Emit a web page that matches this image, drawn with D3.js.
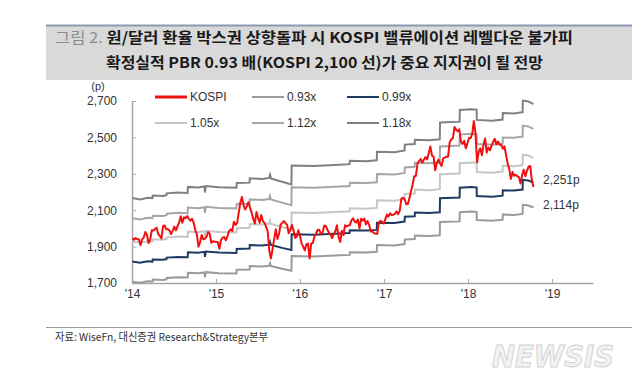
<!DOCTYPE html>
<html>
<head>
<meta charset="utf-8">
<script src="https://cdn.jsdelivr.net/npm/d3@7"></script>
<style>
  body { margin: 0; background: #fff; }
  svg { display: block; }
</style>
</head>
<body>
<div id="chart"></div>
<script>
// weekly KOSPI closes, first week ends 2014-01-03
var kospiStart = new Date(2014, 0, 3);
var kospi2014 = [1946, 1938, 1947, 1940, 1941, 1907, 1940, 1950, 1980, 1964, 1920, 1938, 1990,
    1989, 1997, 2004, 1969, 1958, 1945, 2013, 2016, 1995, 1995, 1989, 1969, 1988,
    2009, 1989, 2012, 2033, 2067, 2031, 2061, 2057, 2068, 2051, 2043, 2053, 2031,
    1991, 1968, 1900, 1925, 1964, 1940, 1944, 1955, 1980, 1970, 1921, 1929, 1927];
var kospi2015 = [1926, 1924, 1888, 1936, 1949, 1953, 1935, 1957, 1985, 1995, 1986, 2037, 2019,
    2029, 2087, 2143, 2173, 2127, 2104, 2121, 2143, 2114, 2086, 2052, 2027, 2090,
    2058, 2031, 2074, 2040, 2030, 2010, 1983, 1876, 1835, 1886, 1941, 1995, 1942,
    1969, 2020, 2030, 2040, 2029, 2020, 1973, 1989, 2019, 1991, 1948, 1954, 1990];
var kospi2016 = [1961, 1918, 1900, 1879, 1912, 1917, 1835, 1916, 1920, 1956, 1971, 1992, 1992,
    1972, 1972, 2015, 2015, 1994, 1976, 1966, 1947, 1969, 1985, 2017, 1953, 1925,
    1987, 1963, 2017, 2010, 2016, 2018, 2044, 2055, 2037, 2032, 2049, 1999, 2053,
    2043, 2054, 2022, 2040, 2019, 1983, 1984, 1974, 1971, 1970, 2031, 2042, 2035, 2026];
var kospi2017 = [2049, 2076, 2065, 2083, 2073, 2075, 2080, 2094, 2078, 2098, 2164, 2168, 2160,
    2133, 2134, 2165, 2205, 2241, 2286, 2288, 2355, 2371, 2381, 2361, 2378, 2392,
    2379, 2414, 2450, 2400, 2395, 2319, 2358, 2378, 2357, 2343, 2386, 2388, 2394,
    2394, 2473, 2489, 2496, 2557, 2542, 2533, 2544, 2476, 2464, 2482, 2440, 2467];
var kospi2018 = [2497, 2496, 2520, 2590, 2525, 2363, 2421, 2440, 2402, 2459, 2494, 2417, 2445,
    2429, 2455, 2476, 2492, 2461, 2477, 2460, 2460, 2438, 2451, 2404, 2357, 2326,
    2272, 2310, 2289, 2295, 2287, 2282, 2247, 2293, 2322, 2287, 2318, 2339, 2343,
    2267, 2228];

// book value per share (index points)
var bpsDates = ["2014-01-02", "2014-02-05", "2014-03-10", "2014-03-31", "2014-04-01", "2014-05-15",
    "2014-05-31", "2014-06-01", "2014-07-20", "2014-08-31", "2014-09-01", "2014-10-15",
    "2014-11-12", "2014-11-14", "2014-11-18", "2015-01-15", "2015-03-31", "2015-04-01",
    "2015-05-27", "2015-05-28", "2015-07-20", "2015-08-20", "2015-08-24", "2015-08-28",
    "2015-10-15", "2015-11-25", "2015-11-26", "2016-03-01", "2016-06-01", "2016-08-04",
    "2016-08-05", "2016-10-15", "2016-11-30", "2016-12-01", "2017-02-15", "2017-03-31",
    "2017-04-01", "2017-05-14", "2017-05-15", "2017-07-15", "2017-08-31", "2017-09-01",
    "2017-11-25", "2017-11-26", "2018-01-15", "2018-02-07", "2018-02-08", "2018-04-15",
    "2018-05-31", "2018-06-01", "2018-07-20", "2018-08-26", "2018-08-27", "2018-09-20",
    "2018-10-12"];
var bpsValues = [1836, 1830, 1838, 1836, 1848, 1846,
    1850, 1858, 1862, 1860, 1888, 1885,
    1890, 1862, 1892, 1886, 1884, 1906,
    1908, 1928, 1925, 1930, 1945, 1928,
    1912, 1900, 1988, 1985, 1990, 1994,
    2010, 2008, 2012, 2052, 2050, 2058,
    2085, 2088, 2108, 2105, 2110, 2188,
    2192, 2246, 2250, 2248, 2200, 2196,
    2202, 2232, 2230, 2236, 2290, 2286,
    2274];

var multiples = [0.93, 0.99, 1.05, 1.12, 1.18];
var multipleLabels = ["0.93x", "0.99x", "1.05x", "1.12x", "1.18x"];
var bandColors = ["#9a9a9a", "#1f3a60", "#c6c6c6", "#a6a6a6", "#808080"];

var yTicks = [1700, 1900, 2100, 2300, 2500, 2700];
var xTickYears = [2014, 2015, 2016, 2017, 2018, 2019];
var endLabels = ["2,251p", "2,114p"];

var W = 639, H = 383;
var parseDate = d3.timeParse("%Y-%m-%d");

var kospiValues = kospi2014.concat(kospi2015, kospi2016, kospi2017, kospi2018);
var kospi = kospiValues.map(function (v, i) {
    return [d3.timeDay.offset(kospiStart, 7 * i), v];
});
var bps = bpsDates.map(function (d, i) { return [parseDate(d), bpsValues[i]]; });

var svg = d3.select("#chart").append("svg")
    .attr("width", W)
    .attr("height", H)
    .style("font-family", "'Liberation Sans', Arial, sans-serif");

// title box
svg.append("rect")
    .attr("x", 46).attr("y", 25).attr("width", 586).attr("height", 55)
    .attr("fill", "#d9d9d9");
svg.append("line")
    .attr("x1", 46).attr("x2", 632).attr("y1", 25.5).attr("y2", 25.5)
    .attr("stroke", "#8a9ab0").attr("stroke-width", 2);

var title1 = svg.append("text")
    .attr("x", 55).attr("y", 43)
    .attr("textLength", 518).attr("lengthAdjust", "spacingAndGlyphs")
    .style("font-family", "'Noto Sans CJK KR', sans-serif")
    .style("font-size", "15px");
title1.append("tspan").attr("fill", "#8c8c8c").text("그림 2. ");
title1.append("tspan").attr("fill", "#1a1a1a").attr("font-weight", "bold")
    .text("원/달러 환율 박스권 상향돌파 시 KOSPI 밸류에이션 레벨다운 불가피");

svg.append("text")
    .attr("x", 106).attr("y", 68)
    .attr("textLength", 437).attr("lengthAdjust", "spacingAndGlyphs")
    .attr("fill", "#1a1a1a").attr("font-weight", "bold")
    .style("font-family", "'Noto Sans CJK KR', sans-serif")
    .style("font-size", "15px")
    .text("확정실적 PBR 0.93 배(KOSPI 2,100 선)가 중요 지지권이 될 전망");

// scales
var x = d3.scaleTime()
    .domain([new Date(2014, 0, 1), new Date(2019, 5, 28)])
    .range([132, 593]);
var y = d3.scaleLinear()
    .domain([1700, 2700])
    .range([283, 101]);

// axes
var xAxis = d3.axisBottom(x)
    .tickValues(xTickYears.map(function (yr) { return new Date(yr, 0, 1); }))
    .tickFormat(d3.timeFormat("'%y"))
    .tickSizeInner(-4).tickSizeOuter(0).tickPadding(6);
var yAxis = d3.axisLeft(y)
    .tickValues(yTicks)
    .tickFormat(d3.format(","))
    .tickSizeInner(-4).tickSizeOuter(0).tickPadding(15);

var gx = svg.append("g").attr("transform", "translate(0,283)").call(xAxis);
var gy = svg.append("g").attr("transform", "translate(132,0)").call(yAxis);
[gx, gy].forEach(function (g) {
    g.select(".domain").attr("stroke", "#a6a6a6").attr("stroke-width", 1.5);
    g.selectAll(".tick line").attr("stroke", "#a6a6a6");
    g.selectAll(".tick text").attr("fill", "#333").style("font-size", "12px")
        .style("font-family", "'Liberation Sans', Arial, sans-serif");
});

svg.append("text")
    .attr("x", 98).attr("y", 90)
    .attr("text-anchor", "middle")
    .attr("fill", "#333").style("font-size", "11px")
    .text("(p)");

// PBR band lines
var line = d3.line()
    .x(function (d) { return x(d[0]); })
    .y(function (d) { return y(d[1]); });

multiples.forEach(function (m, i) {
    svg.append("path")
        .datum(bps.map(function (d) { return [d[0], d[1] * m]; }))
        .attr("fill", "none")
        .attr("stroke", bandColors[i])
        .attr("stroke-width", 2)
        .attr("d", line);
});

// KOSPI
svg.append("path")
    .datum(kospi)
    .attr("fill", "none")
    .attr("stroke", "#f01010")
    .attr("stroke-width", 2)
    .attr("stroke-linejoin", "round")
    .attr("d", line);

// legend
var legendItems = [
    { label: "KOSPI", color: "#f01010", w: 3, x: 155, y: 97 },
    { label: multipleLabels[0], color: bandColors[0], w: 2, x: 252, y: 97 },
    { label: multipleLabels[1], color: bandColors[1], w: 2, x: 347, y: 97 },
    { label: multipleLabels[2], color: bandColors[2], w: 2, x: 155, y: 123 },
    { label: multipleLabels[3], color: bandColors[3], w: 2, x: 252, y: 123 },
    { label: multipleLabels[4], color: bandColors[4], w: 2, x: 347, y: 123 }
];
var lg = svg.selectAll(".legend").data(legendItems).enter().append("g")
    .attr("class", "legend");
lg.append("line")
    .attr("x1", function (d) { return d.x; })
    .attr("x2", function (d) { return d.x + 32; })
    .attr("y1", function (d) { return d.y; })
    .attr("y2", function (d) { return d.y; })
    .attr("stroke", function (d) { return d.color; })
    .attr("stroke-width", function (d) { return d.w; });
lg.append("text")
    .attr("x", function (d) { return d.x + 35; })
    .attr("y", function (d) { return d.y + 4; })
    .attr("fill", "#333").style("font-size", "12px")
    .text(function (d) { return d.label; });

// end labels
var last = bps[bps.length - 1];
svg.append("text")
    .attr("x", 543).attr("y", y(last[1] * multiples[1]) + 1)
    .attr("fill", "#333").style("font-size", "12px")
    .text(endLabels[0]);
svg.append("text")
    .attr("x", 543).attr("y", y(last[1] * multiples[0]) + 1)
    .attr("fill", "#333").style("font-size", "12px")
    .text(endLabels[1]);

// source footer
svg.append("line")
    .attr("x1", 46).attr("x2", 632).attr("y1", 327.5).attr("y2", 327.5)
    .attr("stroke", "#999");
svg.append("text")
    .attr("x", 55).attr("y", 341)
    .attr("fill", "#333")
    .attr("textLength", 213).attr("lengthAdjust", "spacingAndGlyphs")
    .style("font-family", "'Noto Sans CJK KR', sans-serif")
    .style("font-size", "11px")
    .text("자료: WiseFn, 대신증권 Research&Strategy본부");

// watermark
svg.append("text")
    .attr("x", 492).attr("y", 367)
    .attr("fill", "#f2f2f2").attr("stroke", "#d2d2d2").attr("stroke-width", 1)
    .attr("textLength", 122).attr("lengthAdjust", "spacingAndGlyphs")
    .style("font-family", "'DejaVu Sans', sans-serif")
    .style("font-size", "30px").style("font-weight", "bold").style("font-style", "italic")
    .text("NEWSIS");
</script>
</body>
</html>
